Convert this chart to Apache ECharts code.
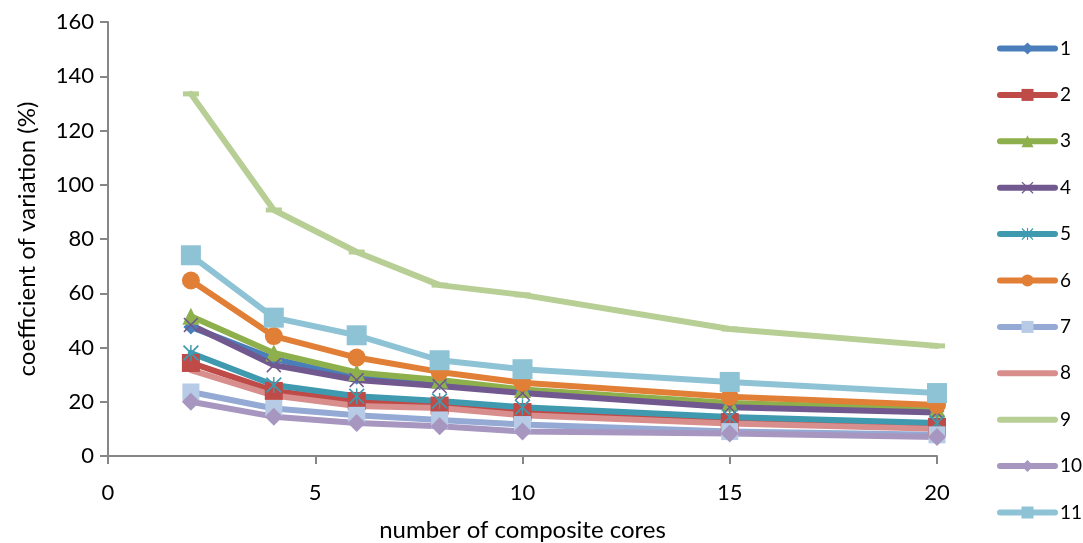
<!DOCTYPE html>
<html>
<head>
<meta charset="utf-8">
<script src="https://cdn.jsdelivr.net/npm/echarts@6/dist/echarts.min.js"></script>
<style>html,body{margin:0;padding:0;background:#fff}#c{width:1083px;height:543px}</style>
</head>
<body>
<div id="c"></div>
<script>
var cores = [2, 4, 6, 8, 10, 15, 20];
var seriesNames = ['1','2','3','4','5','6','7','8','9','10','11'];
var s1  = [47.6, 35.8, 29.0, 27.0, 23.8, 18.8, 16.6];
var s2  = [34.3, 24.0, 20.3, 18.6, 16.2, 12.5, 10.7];
var s3  = [51.5, 38.0, 30.8, 28.0, 24.5, 19.5, 17.2];
var s4  = [48.3, 33.5, 28.0, 25.8, 23.2, 18.0, 16.0];
var s5  = [38.0, 26.2, 22.0, 20.3, 18.0, 14.4, 12.2];
var s6  = [64.7, 44.2, 36.3, 31.0, 27.0, 21.8, 18.8];
var s7  = [23.6, 17.5, 15.0, 13.3, 11.6, 9.0, 7.8];
var s8  = [31.7, 22.3, 18.4, 17.7, 15.0, 12.0, 10.0];
var s9  = [133.5, 90.7, 75.2, 63.0, 59.4, 46.8, 40.6];
var s10 = [20.0, 14.5, 12.2, 11.0, 9.0, 8.3, 7.0];
var s11 = [74.0, 51.0, 44.5, 35.3, 32.0, 27.3, 23.2];
var allValues = [s1, s2, s3, s4, s5, s6, s7, s8, s9, s10, s11];
var yTicks = [0, 20, 40, 60, 80, 100, 120, 140, 160];
var xTicks = [0, 5, 10, 15, 20];

var X_PATH = 'path://M0,1.5 L1.5,0 L10,8.5 L18.5,0 L20,1.5 L11.5,10 L20,18.5 L18.5,20 L10,11.5 L1.5,20 L0,18.5 L8.5,10 Z';
var AST_PATH = 'path://M0,1.5 L1.5,0 L10,8.5 L18.5,0 L20,1.5 L11.5,10 L20,18.5 L18.5,20 L10,11.5 L1.5,20 L0,18.5 L8.5,10 Z M9.1,0 L10.9,0 L10.9,20 L9.1,20 Z';
var DASH_PATH = 'path://M0,0 L20,0 L20,6 L0,6 Z';

var styles = [
  {color:'#4A7EBB', symbol:'diamond', size:15},
  {color:'#BE4B48', symbol:'rect', size:18},
  {color:'#8DB04D', symbol:'triangle', size:17},
  {color:'#71588F', symbol:X_PATH, size:15},
  {color:'#3F9AB0', symbol:AST_PATH, size:16},
  {color:'#E07F35', symbol:'circle', size:18},
  {color:'#94AAD4', symbol:'rect', size:17, mcolor:'#B7CAE6'},
  {color:'#D78E8C', symbol:'none', size:0},
  {color:'#B7CE94', symbol:DASH_PATH, size:[16,5]},
  {color:'#A797C0', symbol:'diamond', size:18},
  {color:'#8EC3D6', symbol:'rect', size:20}
];

var series = allValues.map(function (vals, i) {
  var st = styles[i];
  return {
    name: seriesNames[i],
    type: 'line',
    data: cores.map(function (c, j) { return [c, vals[j]]; }),
    symbol: st.symbol,
    symbolSize: st.size,
    showSymbol: st.symbol !== 'none',
    lineStyle: {width: 6, color: st.color, cap: 'round', join: 'round'},
    itemStyle: {color: st.mcolor || st.color, borderWidth: 0},
    emphasis: {disabled: true},
    animation: false
  };
});

var legendData = seriesNames.map(function (n, i) {
  var item = {name: n};
  if (i === 7 || i === 8) item.itemStyle = {opacity: 0};
  return item;
});

var font = 'Lato, "Open Sans", sans-serif';
var chart = echarts.init(document.getElementById('c'), null, {renderer: 'canvas'});
chart.setOption({
  backgroundColor: '#fff',
  animation: false,
  textStyle: {fontFamily: font},
  grid: {left: 108, right: 146, top: 22, bottom: 87, containLabel: false, outerBoundsMode: 'none'},
  xAxis: {
    type: 'value', min: xTicks[0], max: xTicks[xTicks.length - 1], interval: 5,
    name: 'number of composite cores', nameLocation: 'middle', nameGap: 62,
    nameTextStyle: {fontSize: 24, color: '#000', fontFamily: font},
    axisLine: {show: true, lineStyle: {color: '#868686', width: 2}},
    axisTick: {show: true, length: 8, lineStyle: {color: '#868686', width: 2}},
    axisLabel: {fontSize: 22, color: '#000', margin: 26, fontFamily: font},
    splitLine: {show: false}
  },
  yAxis: {
    type: 'value', min: yTicks[0], max: yTicks[yTicks.length - 1], interval: 20,
    name: 'coefficient of variation (%)', nameLocation: 'middle', nameGap: 69, nameRotate: 90,
    nameTextStyle: {fontSize: 24, color: '#000', fontFamily: font},
    axisLine: {show: true, lineStyle: {color: '#868686', width: 2}},
    axisTick: {show: true, length: 8, lineStyle: {color: '#868686', width: 2}},
    axisLabel: {fontSize: 22, color: '#000', margin: 14, fontFamily: font},
    splitLine: {show: false}
  },
  legend: {
    orient: 'vertical', left: 992, top: 34,
    itemWidth: 55, itemHeight: 15, itemGap: 27.4,
    lineStyle: {width: 6, cap: 'round'},
    textStyle: {fontSize: 19, color: '#000', fontFamily: font},
    data: legendData
  },
  series: series
});
</script>
</body>
</html>
